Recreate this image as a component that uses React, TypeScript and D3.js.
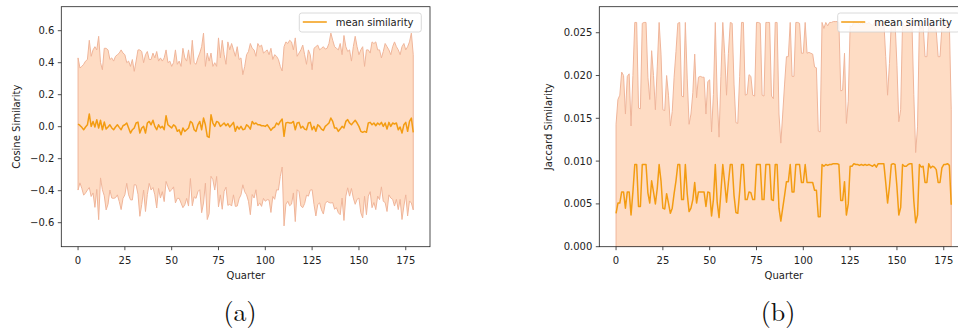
import React, { useEffect } from 'react';
import * as d3 from 'd3';

// quarters 0..179
const quarters = d3.range(180);

// (a) cosine similarity: mean and std per quarter
const cosMean = [
  0.017, 0.008, -0.004, -0.019, -0.002, 0.012, 0.080, 0.002, 0.033, -0.002,
  0.044, -0.008, 0.040, -0.019, 0.029, -0.015, -0.002, 0.012, -0.008, -0.019,
  -0.002, 0.012, -0.004, -0.019, 0.006, 0.012, 0.023, -0.008, -0.040, -0.019,
  -0.008, 0.023, 0.029, -0.040, -0.008, 0.002, -0.040, 0.023, 0.033, 0.012,
  0.040, 0.002, -0.019, 0.012, -0.008, 0.002, -0.019, 0.069, 0.012, 0.002,
  -0.008, 0.012, 0.002, -0.029, -0.019, -0.050, -0.008, -0.029, -0.019, -0.008,
  0.033, 0.023, -0.019, -0.029, 0.012, 0.033, -0.019, 0.054, 0.012, -0.060,
  -0.067, 0.075, 0.023, 0.002, 0.033, 0.027, 0.002, 0.012, 0.023, 0.006,
  0.019, -0.002, 0.012, 0.027, -0.029, 0.002, -0.015, 0.002, -0.019, -0.015,
  0.012, 0.002, -0.015, 0.033, 0.017, 0.023, 0.012, 0.012, 0.006, 0.006,
  0.002, 0.012, -0.004, -0.023, -0.008, -0.002, 0.023, 0.012, 0.033, 0.048,
  -0.060, 0.023, 0.027, 0.023, 0.023, 0.033, -0.019, 0.023, 0.027, -0.008,
  0.002, -0.015, -0.019, 0.023, 0.027, -0.019, 0.002, -0.029, 0.012, 0.002,
  -0.015, -0.023, 0.002, 0.012, 0.023, 0.054, 0.033, -0.008, -0.008, -0.029,
  -0.015, 0.002, -0.008, 0.033, 0.044, 0.023, 0.012, 0.027, 0.040, 0.023,
  0.002, -0.029, -0.035, -0.029, -0.035, 0.023, 0.027, 0.012, 0.023, 0.006,
  0.023, 0.012, 0.027, 0.002, 0.023, -0.015, 0.027, 0.002, 0.023, 0.017,
  0.023, -0.019, -0.002, -0.040, 0.012, 0.027, -0.029, 0.033, 0.054, -0.035,
];
const cosStd = [
  0.413, 0.359, 0.381, 0.409, 0.412, 0.408, 0.460, 0.438, 0.447, 0.502,
  0.436, 0.573, 0.360, 0.375, 0.461, 0.505, 0.482, 0.408, 0.438, 0.429,
  0.442, 0.438, 0.464, 0.499, 0.454, 0.438, 0.377, 0.418, 0.417, 0.439,
  0.354, 0.387, 0.451, 0.520, 0.478, 0.398, 0.490, 0.447, 0.387, 0.408,
  0.420, 0.428, 0.489, 0.398, 0.438, 0.408, 0.449, 0.411, 0.388, 0.408,
  0.385, 0.388, 0.478, 0.419, 0.429, 0.427, 0.498, 0.459, 0.429, 0.488,
  0.357, 0.517, 0.419, 0.419, 0.418, 0.427, 0.519, 0.531, 0.365, 0.520,
  0.477, 0.385, 0.354, 0.398, 0.344, 0.528, 0.428, 0.528, 0.427, 0.384,
  0.511, 0.482, 0.508, 0.453, 0.469, 0.498, 0.435, 0.428, 0.344, 0.392,
  0.438, 0.468, 0.535, 0.457, 0.463, 0.417, 0.508, 0.488, 0.504, 0.454,
  0.468, 0.468, 0.454, 0.513, 0.428, 0.452, 0.417, 0.408, 0.344, 0.300,
  0.560, 0.507, 0.493, 0.517, 0.507, 0.447, 0.574, 0.417, 0.433, 0.488,
  0.508, 0.465, 0.409, 0.457, 0.423, 0.375, 0.488, 0.529, 0.498, 0.478,
  0.505, 0.523, 0.483, 0.478, 0.497, 0.531, 0.507, 0.508, 0.498, 0.509,
  0.535, 0.448, 0.578, 0.467, 0.426, 0.457, 0.398, 0.473, 0.525, 0.477,
  0.448, 0.509, 0.535, 0.406, 0.515, 0.457, 0.433, 0.518, 0.497, 0.524,
  0.457, 0.468, 0.403, 0.468, 0.497, 0.515, 0.453, 0.448, 0.477, 0.513,
  0.477, 0.499, 0.452, 0.540, 0.508, 0.453, 0.529, 0.497, 0.531, 0.485,
];

// (b) jaccard similarity: mean and upper band edge (lower edge is below 0)
const jacMean = [
  0.0039, 0.0051, 0.0051, 0.0064, 0.0064, 0.0045, 0.0064, 0.0064, 0.0037, 0.0064,
  0.0096, 0.0096, 0.0047, 0.0047, 0.0096, 0.0096, 0.0096, 0.0063, 0.0051, 0.0077,
  0.0064, 0.0050, 0.0068, 0.0096, 0.0077, 0.0045, 0.0044, 0.0062, 0.0051, 0.0039,
  0.0045, 0.0062, 0.0077, 0.0096, 0.0096, 0.0055, 0.0055, 0.0096, 0.0062, 0.0041,
  0.0045, 0.0055, 0.0075, 0.0051, 0.0064, 0.0064, 0.0064, 0.0064, 0.0047, 0.0064,
  0.0063, 0.0036, 0.0055, 0.0096, 0.0052, 0.0034, 0.0064, 0.0096, 0.0075, 0.0052,
  0.0075, 0.0096, 0.0096, 0.0060, 0.0040, 0.0039, 0.0064, 0.0096, 0.0096, 0.0055,
  0.0055, 0.0064, 0.0063, 0.0055, 0.0055, 0.0096, 0.0096, 0.0096, 0.0055, 0.0055,
  0.0096, 0.0096, 0.0096, 0.0055, 0.0054, 0.0096, 0.0096, 0.0045, 0.0030, 0.0045,
  0.0060, 0.0076, 0.0076, 0.0096, 0.0064, 0.0064, 0.0096, 0.0096, 0.0096, 0.0075,
  0.0075, 0.0096, 0.0075, 0.0075, 0.0075, 0.0075, 0.0066, 0.0066, 0.0035, 0.0035,
  0.0096, 0.0094, 0.0096, 0.0095, 0.0096, 0.0096, 0.0097, 0.0097, 0.0097, 0.0096,
  0.0054, 0.0054, 0.0076, 0.0037, 0.0050, 0.0094, 0.0094, 0.0097, 0.0096, 0.0096,
  0.0095, 0.0096, 0.0095, 0.0096, 0.0095, 0.0096, 0.0095, 0.0094, 0.0096, 0.0093,
  0.0097, 0.0097, 0.0097, 0.0097, 0.0075, 0.0051, 0.0070, 0.0096, 0.0097, 0.0096,
  0.0070, 0.0037, 0.0046, 0.0096, 0.0094, 0.0094, 0.0096, 0.0097, 0.0097, 0.0054,
  0.0028, 0.0037, 0.0096, 0.0093, 0.0094, 0.0075, 0.0075, 0.0097, 0.0092, 0.0094,
  0.0093, 0.0090, 0.0075, 0.0075, 0.0092, 0.0096, 0.0096, 0.0097, 0.0095, 0.0049,
];
const jacUpper = [
  0.0143, 0.0172, 0.0177, 0.0204, 0.0200, 0.0155, 0.0199, 0.0202, 0.0141, 0.0200,
  0.0262, 0.0262, 0.0162, 0.0161, 0.0261, 0.0262, 0.0262, 0.0198, 0.0172, 0.0229,
  0.0200, 0.0160, 0.0210, 0.0262, 0.0225, 0.0160, 0.0159, 0.0200, 0.0177, 0.0141,
  0.0158, 0.0198, 0.0228, 0.0261, 0.0262, 0.0176, 0.0175, 0.0262, 0.0197, 0.0143,
  0.0155, 0.0180, 0.0225, 0.0174, 0.0198, 0.0199, 0.0198, 0.0198, 0.0155, 0.0193,
  0.0195, 0.0134, 0.0178, 0.0262, 0.0176, 0.0128, 0.0199, 0.0262, 0.0226, 0.0177,
  0.0226, 0.0262, 0.0261, 0.0190, 0.0145, 0.0144, 0.0199, 0.0262, 0.0262, 0.0177,
  0.0178, 0.0201, 0.0199, 0.0177, 0.0176, 0.0262, 0.0262, 0.0261, 0.0177, 0.0176,
  0.0262, 0.0262, 0.0262, 0.0176, 0.0173, 0.0262, 0.0262, 0.0155, 0.0121, 0.0155,
  0.0190, 0.0222, 0.0222, 0.0262, 0.0199, 0.0199, 0.0262, 0.0262, 0.0261, 0.0226,
  0.0226, 0.0262, 0.0226, 0.0227, 0.0226, 0.0225, 0.0210, 0.0209, 0.0135, 0.0134,
  0.0262, 0.0255, 0.0262, 0.0258, 0.0262, 0.0262, 0.0263, 0.0263, 0.0263, 0.0262,
  0.0182, 0.0183, 0.0226, 0.0144, 0.0170, 0.0258, 0.0257, 0.0263, 0.0262, 0.0262,
  0.0260, 0.0262, 0.0260, 0.0262, 0.0260, 0.0262, 0.0260, 0.0258, 0.0262, 0.0257,
  0.0263, 0.0263, 0.0263, 0.0263, 0.0222, 0.0177, 0.0214, 0.0262, 0.0263, 0.0262,
  0.0212, 0.0146, 0.0160, 0.0262, 0.0258, 0.0258, 0.0262, 0.0263, 0.0263, 0.0178,
  0.0110, 0.0140, 0.0262, 0.0255, 0.0258, 0.0222, 0.0222, 0.0263, 0.0254, 0.0258,
  0.0256, 0.0252, 0.0222, 0.0222, 0.0256, 0.0262, 0.0262, 0.0263, 0.0260, 0.0160,
];

const xTicks = [0, 25, 50, 75, 100, 125, 150, 175];
const cosTicks = [-0.6, -0.4, -0.2, 0, 0.2, 0.4, 0.6];
const jacTicks = [0, 0.005, 0.01, 0.015, 0.02, 0.025];

const W = 958;
const H = 328;
const TOP = 6.7;
const BOTTOM = 246.7;
const FONT = '"DejaVu Sans", sans-serif';
const BAND = '#fedcc4';
const BAND_EDGE = '#efb59a';
const LINE = '#f39c12';

interface PanelProps {
  id: string;
  left: number;
  right: number;
  mean: number[];
  lower: number[];
  upper: number[];
  yDomain: [number, number];
  yTicks: number[];
  yFormat: (v: number) => string;
  yLabel: string;
  yLabelX: number;
  caption: string;
  captionX: number;
  legendX: number;
}

const Panel: React.FC<PanelProps> = ({
  id, left, right, mean, lower, upper, yDomain, yTicks, yFormat,
  yLabel, yLabelX, caption, captionX, legendX,
}) => {
  const x = d3.scaleLinear().domain([-8.95, 187.95]).range([left, right]);
  const y = d3.scaleLinear().domain(yDomain).range([BOTTOM, TOP]);

  const band = d3.area<number>()
    .x(i => x(quarters[i]))
    .y0(i => y(lower[i]))
    .y1(i => y(upper[i]));
  const line = d3.line<number>()
    .x(i => x(quarters[i]))
    .y(i => y(mean[i]));

  const idx = quarters.map((_, i) => i);

  return (
    <g>
      <defs>
        <clipPath id={`clip-${id}`}>
          <rect x={left} y={TOP} width={right - left} height={BOTTOM - TOP} />
        </clipPath>
      </defs>
      <g clipPath={`url(#clip-${id})`}>
        <path d={band(idx) || ''} fill={BAND} stroke={BAND_EDGE} strokeWidth={1} />
        <path d={line(idx) || ''} fill="none" stroke={LINE} strokeWidth={1.5} strokeLinejoin="round" />
      </g>

      {/* spines */}
      <rect x={left} y={TOP} width={right - left} height={BOTTOM - TOP}
        fill="none" stroke="#222" strokeWidth={0.8} />

      {/* x axis */}
      {xTicks.map(t => (
        <g key={`x${t}`} transform={`translate(${x(t)},${BOTTOM})`}>
          <line y2={3.5} stroke="#222" strokeWidth={0.8} />
          <text y={17} textAnchor="middle" fontSize={10} fontFamily={FONT} fill="#222">{t}</text>
        </g>
      ))}
      <text x={(x(0) + x(175)) / 2 + 4} y={279} textAnchor="middle" fontSize={10} fontFamily={FONT} fill="#222">Quarter</text>

      {/* y axis */}
      {yTicks.map(t => (
        <g key={`y${t}`} transform={`translate(${left},${y(t)})`}>
          <line x2={-3.5} stroke="#222" strokeWidth={0.8} />
          <text x={-7} dy="0.34em" textAnchor="end" fontSize={10} fontFamily={FONT} fill="#222">{yFormat(t)}</text>
        </g>
      ))}
      <text transform={`translate(${yLabelX},${(TOP + BOTTOM) / 2}) rotate(-90)`}
        textAnchor="middle" fontSize={10} fontFamily={FONT} fill="#222">{yLabel}</text>

      {/* legend */}
      <g transform={`translate(${legendX},13)`}>
        <rect width={122} height={19} rx={2.5} fill="#fff" fillOpacity={0.8} stroke="#d0d0d0" strokeWidth={0.8} />
        <line x1={3.5} x2={27.5} y1={9} y2={9} stroke={LINE} strokeWidth={1.5} />
        <text x={36.5} y={13} fontSize={10} fontFamily={FONT} fill="#222">mean similarity</text>
      </g>

      <text x={captionX} y={321} textAnchor="middle" fontSize={26}
        fontFamily='"Latin Modern Roman", "DejaVu Serif", serif' fill="#111">{caption}</text>
    </g>
  );
};

const minus = (s: string) => s.replace('-', '\u2212');

export default function App() {
  useEffect(() => {
    document.body.style.margin = '0';
  }, []);

  const cosLower = cosMean.map((m, i) => m - cosStd[i]);
  const cosUpper = cosMean.map((m, i) => m + cosStd[i]);
  const jacLower = jacMean.map(() => 0);

  return (
    <svg width={W} height={H} viewBox={`0 0 ${W} ${H}`} style={{ display: 'block', background: '#fff' }}>
      <Panel
        id="a" left={61.3} right={430}
        mean={cosMean} lower={cosLower} upper={cosUpper}
        yDomain={[-0.75, 0.75]} yTicks={cosTicks}
        yFormat={v => minus(d3.format('.1f')(v))}
        yLabel="Cosine Similarity" yLabelX={19.5}
        caption="(a)" captionX={240} legendX={299.3}
      />
      <Panel
        id="b" left={599.3} right={968}
        mean={jacMean} lower={jacLower} upper={jacUpper}
        yDomain={[0, 0.02804]} yTicks={jacTicks}
        yFormat={v => d3.format('.3f')(v)}
        yLabel="Jaccard Similarity" yLabelX={552}
        caption="(b)" captionX={778} legendX={837.7}
      />
    </svg>
  );
}
